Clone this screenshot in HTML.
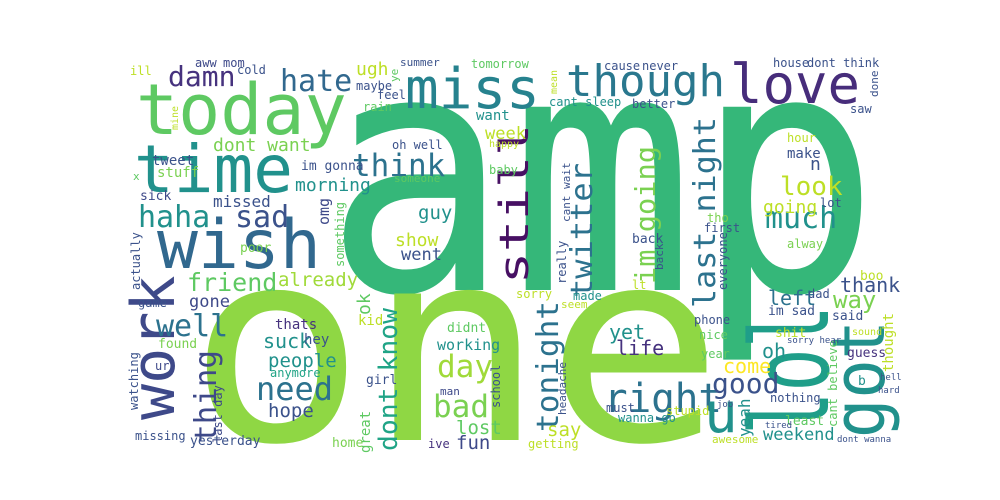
<!DOCTYPE html>
<html><head><meta charset="utf-8"><style>
html,body{margin:0;padding:0;background:#fff;width:1000px;height:500px;overflow:hidden}
svg text{font-family:"DejaVu Sans Mono","Liberation Mono",monospace}
</style></head><body>
<svg id="cloud" width="1000" height="500" viewBox="0 0 1000 500"></svg>
<script>
const words = [
"amp","one","today","time","wish","miss","though","love","work","got",
"lol","still","right","good","look","much","hate","damn","think","haha",
"sad","dont want","friend","well","thing","need","people","suck","hope","day",
"bad","tonight","twitter","last night","im going","dont know","u","morning","already","gone",
"omg","ok","missed","stuff","tweet","sick","ill","aww","mom","cold",
"ugh","maybe","feel","rain","im gonna","x","poor","thats","kid","hey",
"found","anymore","ur","girl","missing","yesterday","home","actually","watching","great",
"last day","something","game","summer","tomorrow","cause","never","mean","cant sleep","better",
"want","week","happy","oh well","baby","someone","guy","show","went","back",
"lt","sorry","made","seem","didnt","working","yet","life","man","lost",
"fun","say","must","wanna go","stupid","getting","ive","cant wait","really","back",
"school","headache","house","dont think","saw","hour","make","n","going","lot",
"tho","first","alway","everyone","left","dad","thank","boo","way","phone",
"im sad","said","nice","shit","oh","year","guess","cant believe","come","b",
"nothing","yeah","least","weekend","awesome","done","ye","mine","thought","sound",
"hell","hard","dont wanna","sorry hear","tired","job"];
const xs = [
324,187,136,134,157,405,566,730,174,884,
828,528,604,712,780,765,280,168,352,138,
235,213,187,156,216,256,268,263,268,437,
433,558,592,715,655,397,704,295,278,189,
329,370,213,157,152,140,130,195,223,237,
356,356,377,363,301,133,240,275,358,304,
158,270,155,366,135,190,332,140,138,370,
222,344,138,400,471,604,642,557,549,632,
476,485,489,392,489,394,418,395,401,632,
632,516,573,561,447,437,609,616,440,456,
456,547,606,618,666,528,428,570,566,663,
500,566,773,807,850,787,787,810,763,820,
707,704,787,727,768,808,840,860,833,694,
768,832,699,775,762,701,847,837,723,858,
770,750,785,763,712,878,398,178,893,852,
880,878,837,787,765,717];
const ys = [
290,440,134,192,268,108,96,103,420,438,
435,284,412,393,195,228,91,86,176,227,
227,151,291,336,443,400,367,348,417,377,
417,432,298,308,284,451,432,191,286,307,
225,315,207,177,165,200,75,67,67,74,
75,90,99,111,170,180,252,329,325,344,
348,377,370,384,440,445,447,290,410,453,
443,267,307,66,68,70,70,94,106,108,
120,139,147,149,174,182,219,246,260,243,
289,298,300,308,332,350,339,355,395,434,
449,436,412,422,415,448,448,222,284,270,
408,415,67,67,113,142,158,170,213,207,
222,232,248,290,305,298,292,280,308,324,
315,320,339,337,358,358,357,427,373,385,
402,437,425,440,443,97,82,130,372,335,
380,393,442,343,428,407];
const sizes = [
335,268,70,66,68,56,44,54,60,72,
108,40,40,28,26,30,30,28,31,30,
30,18,25,30,30,32,19,20,19,31,
31,30,30,30,28,26,56,18,19,17,
15,18,16,14,14,13,12,12,12,12,
18,12,12,12,13,11,13,14,14,14,
13,12,12,13,12,13,13,12,12,14,
12,12,12,11,12,12,12,10,12,12,
14,17,10,12,12,11,19,18,17,13,
12,12,12,11,13,15,20,20,11,19,
19,19,12,12,12,12,12,11,12,11,
12,11,12,12,12,12,14,18,18,12,
12,12,12,12,20,12,20,13,24,12,
13,13,12,13,20,12,13,12,20,13,
12,16,13,17,11,11,11,10,14,10,
9,9,9,9,9,9];
const colors = [
"#35b779","#8fd744","#5ec962","#21918c","#31688e","#26828e","#2a788e","#472d7b","#3e4989","#21918c",
"#1f9e89","#471063","#2c728e","#3b528b","#bddf26","#21918c","#31688e","#46327e","#2c728e","#21918c",
"#3b528b","#7ad151","#5ec962","#2c728e","#3e4989","#2c728e","#21918c","#21918c","#3b528b","#a0da39",
"#7ad151","#2c728e","#2c728e","#2c728e","#7ad151","#20a486","#21918c","#21918c","#a0da39","#3e4989",
"#3e4989","#5ec962","#3b528b","#7ad151","#3b528b","#3e4989","#bddf26","#3e4989","#3e4989","#3b528b",
"#bddf26","#3b528b","#3b528b","#5ec962","#3b528b","#5ec962","#7ad151","#46327e","#bddf26","#3b528b",
"#7ad151","#20a486","#3e4989","#3b528b","#3b528b","#3b528b","#7ad151","#3b528b","#3b528b","#5ec962",
"#3e4989","#5ec962","#3b528b","#3b528b","#5ec962","#3b528b","#3b528b","#bddf26","#21918c","#3b528b",
"#21918c","#bddf26","#bddf26","#3b528b","#5ec962","#5ec962","#21918c","#bddf26","#3b528b","#3b528b",
"#bddf26","#bddf26","#21918c","#bddf26","#5ec962","#21918c","#21918c","#46327e","#3e4989","#5ec962",
"#3e4989","#bddf26","#3b528b","#21918c","#bddf26","#bddf26","#46327e","#3b528b","#3b528b","#3b528b",
"#3b528b","#3b528b","#3b528b","#3b528b","#3b528b","#bddf26","#3b528b","#3b528b","#bddf26","#3b528b",
"#7ad151","#3b528b","#7ad151","#3b528b","#2c728e","#3b528b","#3b528b","#bddf26","#7ad151","#3b528b",
"#3b528b","#3b528b","#5ec962","#bddf26","#21918c","#5ec962","#46327e","#5ec962","#fde725","#21918c",
"#3b528b","#21918c","#5ec962","#21918c","#bddf26","#3b528b","#5ec962","#bddf26","#bddf26","#bddf26",
"#3b528b","#3b528b","#3b528b","#3b528b","#3b528b","#3b528b"];
const rotated = [
0,0,0,0,0,0,0,0,1,1,
1,1,0,0,0,0,0,0,0,0,
0,0,0,0,1,0,0,0,0,0,
0,1,1,1,1,1,0,0,0,0,
1,1,0,0,0,0,0,0,0,0,
0,0,0,0,0,0,0,0,0,0,
0,0,0,0,0,0,0,1,1,1,
1,1,0,0,0,0,0,1,0,0,
0,0,0,0,0,0,0,0,0,0,
0,0,0,0,0,0,0,0,0,0,
0,0,0,0,0,0,0,1,1,1,
1,1,0,0,0,0,0,0,0,0,
0,0,0,1,0,0,0,0,0,0,
0,0,0,0,0,0,0,1,0,0,
0,1,0,0,0,1,1,1,1,0,
0,0,0,0,0,0];
const stretch = [
556,537,0,0,0,0,0,0,0,118,
130,160,118,0,0,0,0,0,0,0,
0,0,0,0,93,0,0,0,0,0,
0,131,135,191,138,143,0,0,0,0];
const svg = document.getElementById('cloud');
const NS = 'http://www.w3.org/2000/svg';
words.forEach((w,i)=>{
  const t = document.createElementNS(NS,'text');
  t.setAttribute('x', xs[i]);
  t.setAttribute('y', ys[i]);
  t.setAttribute('font-size', sizes[i]);
  t.setAttribute('fill', colors[i]);
  if (stretch[i]) {
    t.setAttribute('textLength', stretch[i]);
    t.setAttribute('lengthAdjust', 'spacingAndGlyphs');
  }
  if (rotated[i]) t.setAttribute('transform', 'rotate(-90 ' + xs[i] + ' ' + ys[i] + ')');
  t.textContent = w;
  
  
  svg.appendChild(t);
});
</script>
</body></html>
